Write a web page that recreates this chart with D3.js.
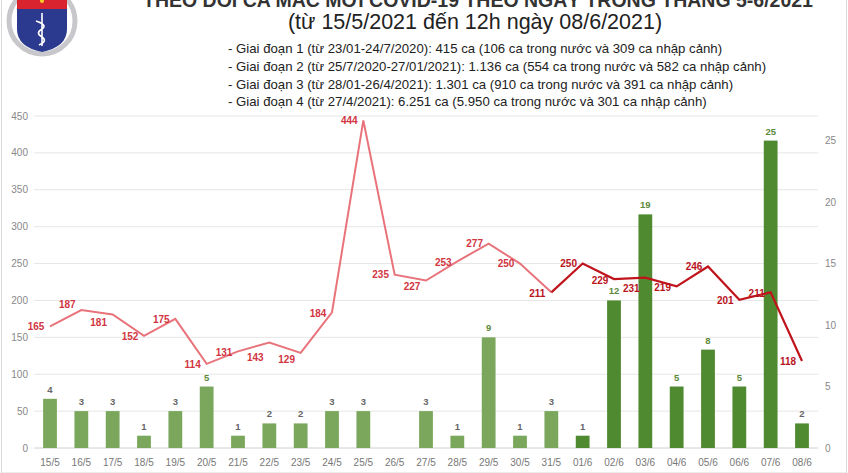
<!DOCTYPE html>
<html lang="vi">

<head>
    <meta charset="utf-8">
    <title>covid theo ngay</title>
    <script src="https://cdn.jsdelivr.net/npm/d3@7/dist/d3.min.js"></script>
    <style>
        body { margin: 0; background: #fff; }
        text { font-family: "Liberation Sans", sans-serif; }
    </style>
</head>

<body>
    <script>
        // dữ liệu
        var days = ['15/5', '16/5', '17/5', '18/5', '19/5', '20/5', '21/5', '22/5', '23/5', '24/5', '25/5', '26/5', '27/5',
            '28/5', '29/5', '30/5', '31/5', '01/6', '02/6', '03/6', '04/6', '05/6', '06/6', '07/6', '08/6'];
        var localCases = [165, 187, 181, 152, 175, 114, 131, 143, 129, 184, 444, 235, 227,
            253, 277, 250, 211, 250, 229, 231, 219, 246, 201, 211, 118];
        var importedCases = [4, 3, 3, 1, 3, 5, 1, 2, 2, 3, 3, 0, 3,
            1, 9, 1, 3, 1, 12, 19, 5, 8, 5, 25, 2];
        var leftTicks = [0, 50, 100, 150, 200, 250, 300, 350, 400, 450];
        var rightTicks = [0, 5, 10, 15, 20, 25];
        var title = 'THEO DÕI CA MẮC MỚI COVID-19 THEO NGÀY TRONG THÁNG 5-6/2021';
        var subtitle = '(từ 15/5/2021 đến 12h ngày 08/6/2021)';
        var notes = [
            '- Giai đoạn 1 (từ 23/01-24/7/2020): 415 ca (106 ca trong nước và 309 ca nhập cảnh)',
            '- Giai đoạn 2 (từ 25/7/2020-27/01/2021): 1.136 ca (554 ca trong nước và 582 ca nhập cảnh)',
            '- Giai đoạn 3 (từ 28/01-26/4/2021): 1.301 ca (910 ca trong nước và 391 ca nhập cảnh)',
            '- Giai đoạn 4 (từ 27/4/2021): 6.251 ca (5.950 ca trong nước và 301 ca nhập cảnh)'
        ];
        var splitDay = '01/6'; // từ ngày này màu đậm hơn

        // dịch dọc của nhãn đường
        var labelDy = [0, -6, 8, 1, 1, 1, 1, 15, 7, 1, 0, 0, 6, 1, 0, 0, 1, 0, 1, 11, 1, 0, 1, 1, 1];

        var W = 848, H = 473;
        var svg = d3.select('body').append('svg')
            .attr('width', W).attr('height', H);

        var x = d3.scalePoint().domain(days).range([50, 802]);
        var yL = d3.scaleLinear().domain([0, 450]).range([448, 116]);
        var yR = d3.scaleLinear().domain([0, 27]).range([448, 116]);
        var splitIdx = days.indexOf(splitDay);
        var barW = x.step() * 0.44;

        // khung
        svg.append('rect').attr('x', 1.5).attr('y', -2).attr('width', W - 3).attr('height', H + 2)
            .attr('fill', 'none').attr('stroke', '#d8d8d8');

        // logo
        var logo = svg.append('g').attr('transform', 'translate(42,21)');
        logo.append('circle').attr('r', 33).attr('fill', 'none').attr('stroke', '#c8c8cc').attr('stroke-width', 5);
        logo.append('path').attr('d', 'M-25,-12 L25,-12 L25,-26 Q0,-42 -25,-26 Z').attr('fill', '#d9232e');
        logo.append('path').attr('d', 'M-25,-12 L25,-12 L25,8 Q25,26 0,31 Q-25,26 -25,8 Z').attr('fill', '#2b3a8f');
        logo.append('path').attr('d', 'M0,-8 L0,25 M-6,0 Q6,4 0,8 Q-7,12 0,16 Q6,20 -3,24')
            .attr('stroke', '#fff').attr('stroke-width', 1.6).attr('fill', 'none');
        logo.append('circle').attr('cx', 0).attr('cy', -20).attr('r', 2).attr('fill', '#f5d020');

        // tiêu đề
        svg.append('text').attr('x', 478).attr('y', 7).attr('text-anchor', 'middle')
            .style('font-size', '19.5px').style('font-weight', 'bold').attr('fill', '#333').text(title);
        svg.append('text').attr('x', 475).attr('y', 29).attr('text-anchor', 'middle')
            .style('font-size', '21.5px').attr('fill', '#222').text(subtitle);

        svg.append('g').selectAll('text').data(notes).enter().append('text')
            .attr('x', 228).attr('y', (d, i) => 53 + i * 17.8)
            .style('font-size', '13.2px').attr('fill', '#222').text(d => d);

        // lưới
        svg.append('g').selectAll('line').data(leftTicks).enter().append('line')
            .attr('x1', 34).attr('x2', 818)
            .attr('y1', d => yL(d)).attr('y2', d => yL(d))
            .attr('stroke', d => d === 0 ? '#d0d0d0' : '#e6e6e6').attr('stroke-width', 1);

        svg.append('g').selectAll('text').data(leftTicks).enter().append('text')
            .attr('x', 28).attr('y', d => yL(d) + 3.5).attr('text-anchor', 'end')
            .style('font-size', '10px').attr('fill', '#888').text(d => d);

        svg.append('g').selectAll('text').data(rightTicks).enter().append('text')
            .attr('x', 825).attr('y', d => yR(d) + 3.5)
            .style('font-size', '10px').attr('fill', '#888').text(d => d);

        svg.append('g').selectAll('text').data(days).enter().append('text')
            .attr('x', d => x(d)).attr('y', 466).attr('text-anchor', 'middle')
            .style('font-size', '10px').attr('fill', '#777').text(d => d);

        // cột
        svg.append('g').selectAll('rect').data(importedCases).enter().append('rect')
            .attr('x', (d, i) => x(days[i]) - barW / 2)
            .attr('y', d => yR(d))
            .attr('width', barW)
            .attr('height', d => yR(0) - yR(d))
            .attr('fill', (d, i) => i >= splitIdx ? '#4f8a30' : '#7aa75c');

        svg.append('g').selectAll('text').data(importedCases).enter().append('text')
            .attr('x', (d, i) => x(days[i])).attr('y', d => yR(d) - 6)
            .attr('text-anchor', 'middle')
            .style('font-size', '9.5px').style('font-weight', 'bold')
            .attr('fill', d => d >= 5 ? '#5d8a3a' : '#666')
            .text(d => d > 0 ? d : '');

        // đường
        var pts = localCases.map((d, i) => [x(days[i]), yL(d)]);
        var line = d3.line();
        svg.append('path').attr('d', line(pts.slice(0, splitIdx)))
            .attr('fill', 'none').attr('stroke', '#e8737b').attr('stroke-width', 2);
        svg.append('path').attr('d', line(pts.slice(splitIdx - 1)))
            .attr('fill', 'none').attr('stroke', '#c0141c').attr('stroke-width', 2.2);

        svg.append('g').selectAll('text').data(localCases).enter().append('text')
            .attr('x', (d, i) => x(days[i]) - 14)
            .attr('y', (d, i) => yL(d) + labelDy[i] + 3.5)
            .attr('text-anchor', 'middle')
            .style('font-size', '10px').style('font-weight', 'bold')
            .attr('fill', (d, i) => i >= splitIdx - 1 ? '#b8141c' : '#d2353f')
            .text(d => d);
    </script>
</body>

</html>
